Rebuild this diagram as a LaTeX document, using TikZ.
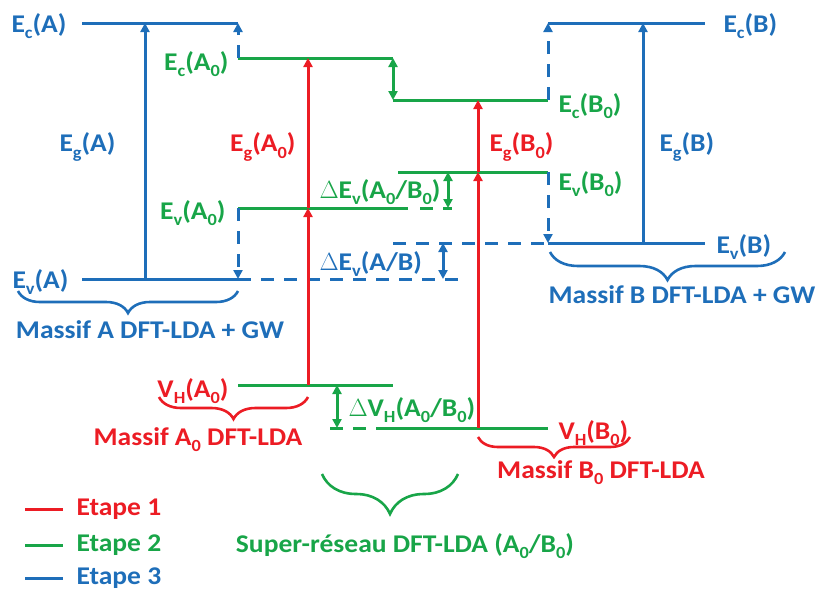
\documentclass[tikz,border=0pt]{standalone}
\usepackage{fontspec}
\setmainfont{Carlito}[FakeStretch=1.08]
\usetikzlibrary{arrows.meta,decorations.pathreplacing}
\definecolor{bleu}{RGB}{30,110,185}
\definecolor{rouge}{RGB}{236,28,36}
\definecolor{vert}{RGB}{24,165,72}
\newcommand{\ind}[1]{\raisebox{-0.24em}{\fontsize{17}{17}\selectfont #1}}

\begin{document}
\begin{tikzpicture}[x=1pt, y=-1pt, line width=3pt, >={Triangle[length=9pt,width=9pt]},
  lab/.style={font=\bfseries\fontsize{25.5}{27}\selectfont, inner sep=3pt},
  dsh/.style={dash pattern=on 13pt off 10pt},
  brc/.style={decorate, decoration={brace, mirror, amplitude=#1}, line width=2.6pt}]
  \useasboundingbox (0,0) rectangle (820,592);
  % Etape 3 : massifs A et B (DFT-LDA + GW)
  \draw[bleu] (82,23) coordinate (EcA) -- (145,23) coordinate (EcAg) -- (238,23) coordinate (EcAr);
  \draw[bleu] (82,279) coordinate (EvA) -- (145,279) coordinate (EvAg) -- (238,279) coordinate (EvAr);
  \draw[bleu] (548,23) coordinate (EcBl) -- (643,23) coordinate (EcBg) -- (705,23) coordinate (EcB);
  \draw[bleu] (548,243) coordinate (EvBl) -- (643,243) coordinate (EvBg) -- (705,243) coordinate (EvB);
  \draw[bleu,->] (EvAg) -- (EcAg);
  \draw[bleu,->] (EvBg) -- (EcBg);
  \draw[bleu,dsh] (EvAr) -- (465,279) coordinate (EvAd);
  \draw[bleu,dsh] (393,243) coordinate (EvBd) -- (EvBl);
  \draw[bleu,<->] (443,243) coordinate (dAB1) -- (443,279) coordinate (dAB2);
  % Etape 2 : super-reseau A0/B0
  \draw[vert] (238,58) coordinate (EcA0) -- (308,58) coordinate (EcA0g) -- (393,58) coordinate (EcA0r);
  \draw[vert] (393,100) coordinate (EcB0l) -- (478,100) coordinate (EcB0g) -- (548,100) coordinate (EcB0);
  \draw[vert] (238,208) coordinate (EvA0) -- (308,208) coordinate (EvA0g) -- (408,208) coordinate (EvA0r);
  \draw[vert,dsh] (420,208) coordinate (EvA0d) -- (452,208) coordinate (EvA0e);
  \draw[vert] (398,172) coordinate (EvB0l) -- (478,172) coordinate (EvB0g) -- (548,172) coordinate (EvB0);
  \draw[vert] (238,385) coordinate (VHA0) -- (308,385) coordinate (VHA0g) -- (393,385) coordinate (VHA0r);
  \draw[vert,dsh] (330,428) coordinate (VHd) -- (380,428) coordinate (VHB0l);
  \draw[vert] (VHB0l) -- (478,428) coordinate (VHB0g) -- (548,428) coordinate (VHB0);
  \draw[vert,<->] (EcA0r) -- (EcB0l);
  \draw[vert,<->] (448,172) coordinate (dA0B0a) -- (448,208) coordinate (dA0B0b);
  \draw[vert,<->] (337,385) coordinate (dVHa) -- (337,428) coordinate (dVHb);
  % Etape 3 : alignement sur les massifs
  \draw[bleu,dsh,->] (EcA0) -- (EcAr);
  \draw[bleu,dsh,->] (EcB0) -- (EcBl);
  \draw[bleu,dsh,->] (EvA0) -- (EvAr);
  \draw[bleu,dsh,->] (EvB0) -- (EvBl);
  % Etape 1 : massifs A0 et B0 (DFT-LDA)
  \draw[rouge,->] (VHA0g) -- (EvA0g);
  \draw[rouge,->] (EvA0g) -- (EcA0g);
  \draw[rouge,->] (VHB0g) -- (EvB0g);
  \draw[rouge,->] (EvB0g) -- (EcB0g);
  % accolades
  \draw[bleu,brc=22pt] (18,291) coordinate (bA1) -- (238,291) coordinate (bA2);
  \draw[rouge,brc=22pt] (159,397) coordinate (bA01) -- (308,397) coordinate (bA02);
  \draw[vert,brc=40pt] (322,474) coordinate (bSR1) -- (458,474) coordinate (bSR2);
  \draw[rouge,brc=20pt] (478,437) coordinate (bB01) -- (630,437) coordinate (bB02);
  \draw[bleu,brc=28pt] (550,252) coordinate (bB1) -- (785,252) coordinate (bB2);
  % etiquettes
  \node[lab,bleu,anchor=east] (tEcA) at (71,26) {E\ind{c}(A)};
  \node[lab,bleu,anchor=east] (tEvA) at (73,282) {E\ind{v}(A)};
  \node[lab,bleu,anchor=east] (tEgA) at (120,147) {E\ind{g}(A)};
  \node[lab,vert,anchor=east] (tEcA0) at (233,64) {E\ind{c}(A\ind{0})};
  \node[lab,vert,anchor=east] (tEvA0) at (230,213) {E\ind{v}(A\ind{0})};
  \node[lab,rouge,anchor=east] (tEgA0) at (300,147) {E\ind{g}(A\ind{0})};
  \node[lab,rouge,anchor=east] (tVHA0) at (233,391) {V\ind{H}(A\ind{0})};
  \node[lab,vert,anchor=west] (tEcB0) at (554,106) {E\ind{c}(B\ind{0})};
  \node[lab,vert,anchor=west] (tEvB0) at (554,184) {E\ind{v}(B\ind{0})};
  \node[lab,rouge,anchor=west] (tEgB0) at (485,147) {E\ind{g}(B\ind{0})};
  \node[lab,rouge,anchor=west] (tVHB0) at (554,433) {V\ind{H}(B\ind{0})};
  \node[lab,bleu,anchor=west] (tEcB) at (719,26) {E\ind{c}(B)};
  \node[lab,bleu,anchor=west] (tEgB) at (655,147) {E\ind{g}(B)};
  \node[lab,bleu,anchor=west] (tEvB) at (712,247) {E\ind{v}(B)};
  \node[lab,vert,anchor=west] (tdEv0) at (315,192) {$\Delta$E\ind{v}(A\ind{0}/B\ind{0})};
  \node[lab,bleu,anchor=west] (tdEv) at (315,264) {$\Delta$E\ind{v}(A/B)};
  \node[lab,vert,anchor=west] (tdVH) at (344,410) {$\Delta$V\ind{H}(A\ind{0}/B\ind{0})};
  \node[lab,bleu] (tMA) at (150,330) {Massif A DFT-LDA + GW};
  \node[lab,rouge] (tMA0) at (198,440) {Massif A\ind{0} DFT-LDA};
  \node[lab,vert] (tSR) at (405,546) {Super-réseau DFT-LDA (A\ind{0}/B\ind{0})};
  \node[lab,rouge] (tMB0) at (601,473) {Massif B\ind{0} DFT-LDA};
  \node[lab,bleu] (tMB) at (682,295) {Massif B DFT-LDA + GW};
  % legende
  \draw[rouge] (25,509) coordinate (l1a) -- (63,509) coordinate (l1b) node[lab,right,xshift=9pt] (tE1) {Etape 1};
  \draw[vert] (25,545) coordinate (l2a) -- (63,545) coordinate (l2b) node[lab,right,xshift=9pt] (tE2) {Etape 2};
  \draw[bleu] (25,578) coordinate (l3a) -- (63,578) coordinate (l3b) node[lab,right,xshift=9pt] (tE3) {Etape 3};
\end{tikzpicture}
\end{document}
